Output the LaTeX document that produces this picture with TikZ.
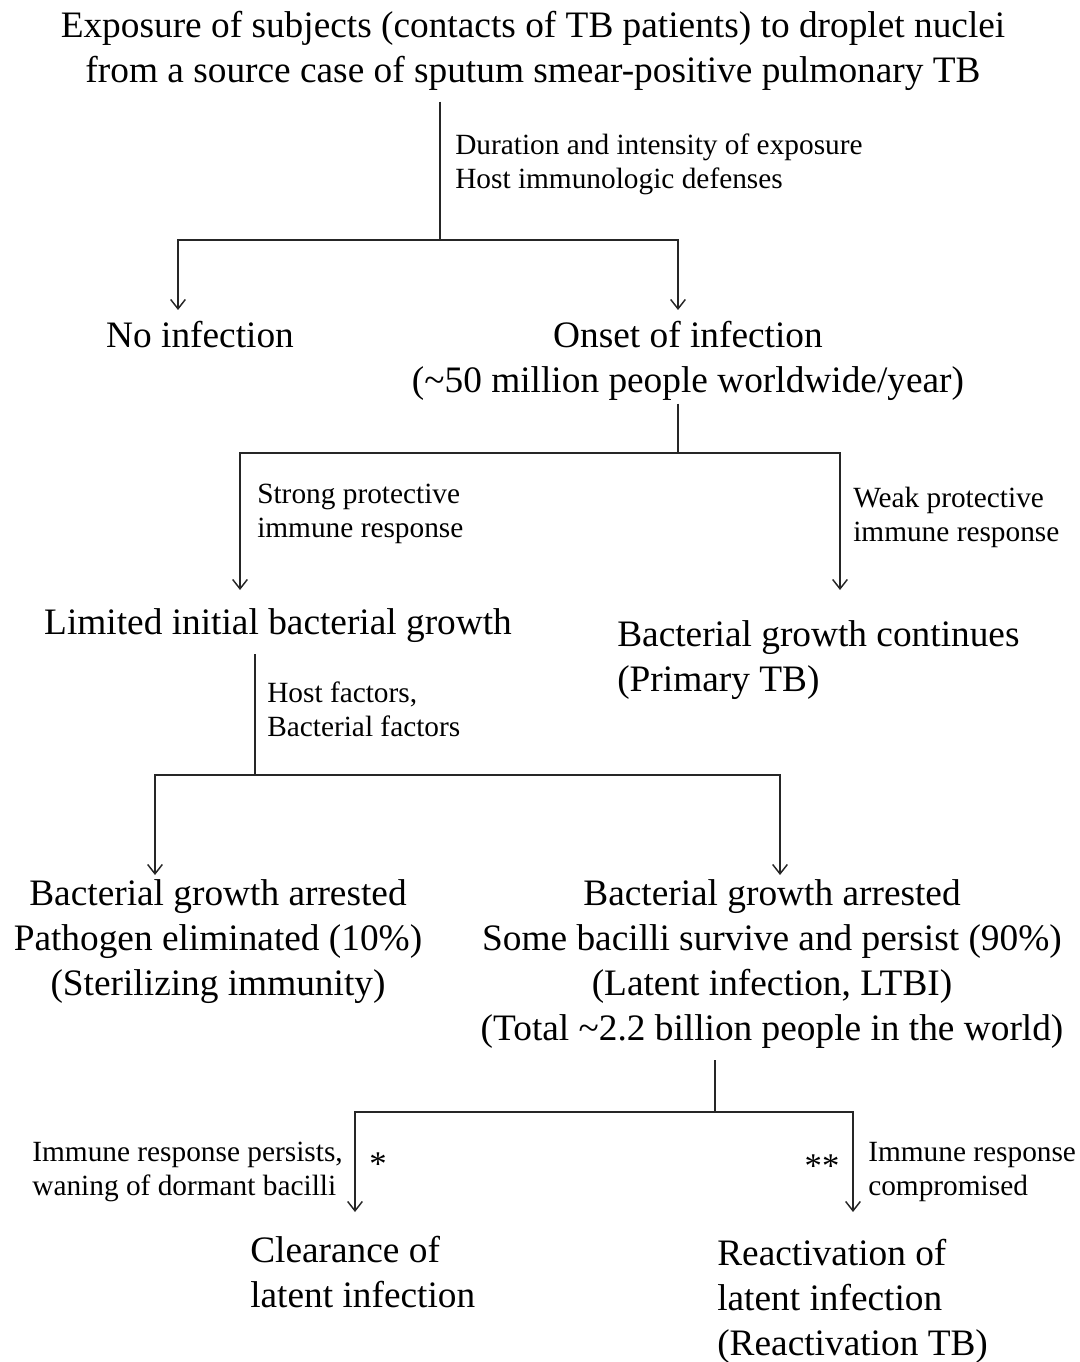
\documentclass[tikz,border=0pt]{standalone}
\usepackage{fontspec}
\setmainfont{Liberation Serif}
\usetikzlibrary{arrows.meta}
\tikzset{>={Straight Barb[length=7pt,width=11pt]}}
\tikzset{
  big/.style={inner sep=0pt, align=center, font=\fontsize{28}{33.75}\selectfont},
  small/.style={inner sep=0pt, align=left, font=\fontsize{22}{25.5}\selectfont},
  line/.style={line width=1.1pt, draw=black!85}
}

\begin{document}
\begin{tikzpicture}[x=0.75pt, y=-0.75pt]
    \useasboundingbox (0,0) rectangle (1080,1362);
    \node[big, anchor=north] (expo) at (533,11) {Exposure of subjects (contacts of TB patients) to droplet nuclei\\from a source case of sputum smear-positive pulmonary TB};
    \node[small, anchor=north west] (dur) at (455,134) {Duration and intensity of exposure\\Host immunologic defenses};
    \node[big, anchor=north] (noinf) at (200,321) {No infection};
    \node[big, anchor=north] (onset) at (688,321) {Onset of infection\\(\textasciitilde 50 million people worldwide/year)};
    \node[small, anchor=north west] (strong) at (257,484) {Strong protective\\immune response};
    \node[small, anchor=north west] (weak) at (853,487) {Weak protective\\immune response};
    \node[big, anchor=north] (limit) at (278,608) {Limited initial bacterial growth};
    \node[big, anchor=north west, align=left] (cont) at (617,620) {Bacterial growth continues\\(Primary TB)};
    \node[small, anchor=north west] (hostf) at (267,682) {Host factors,\\Bacterial factors};
    \node[big, anchor=north] (elim) at (218,879) {Bacterial growth arrested\\Pathogen eliminated (10\%)\\(Sterilizing immunity)};
    \node[big, anchor=north] (ltbi) at (772,879) {Bacterial growth arrested\\Some bacilli survive and persist (90\%)\\(Latent infection, LTBI)\\(Total \textasciitilde 2.2 billion people in the world)};
    \node[small, anchor=north east] (pers) at (343,1142) {Immune response persists,\\waning of dormant bacilli};
    \node[small, font=\fontsize{26}{26}\selectfont] (star) at (378,1164) {*};
    \node[small, font=\fontsize{26}{26}\selectfont] (dstar) at (822,1166) {**};
    \node[small, anchor=north west] (comp) at (868,1142) {Immune response\\compromised};
    \node[big, anchor=north west, align=left] (clear) at (250,1236) {Clearance of\\latent infection};
    \node[big, anchor=north west, align=left] (react) at (717,1239) {Reactivation of\\latent infection\\(Reactivation TB)};

    \coordinate (j1) at (440,240);
    \coordinate (j2) at (678,453);
    \coordinate (j3) at (255,775);
    \coordinate (j4) at (715,1112);
    \coordinate (t1) at (178,310);
    \coordinate (t2) at (678,310);
    \coordinate (t3) at (240,590);
    \coordinate (t4) at (840,590);
    \coordinate (t5) at (155,875);
    \coordinate (t6) at (780,875);
    \coordinate (t7) at (355,1212);
    \coordinate (t8) at (853,1212);

    \draw[line, shorten <=8pt] (expo.south -| j1) -- (j1);
    \draw[line, ->] (j1) -| (t1);
    \draw[line, ->] (j1) -| (t2);
    \draw[line, shorten <=2pt] (onset.south -| j2) -- (j2);
    \draw[line, ->] (j2) -| (t3);
    \draw[line, ->] (j2) -| (t4);
    \draw[line, shorten <=9pt] (limit.south -| j3) -- (j3);
    \draw[line, ->] (j3) -| (t5);
    \draw[line, ->] (j3) -| (t6);
    \draw[line, shorten <=9pt] (ltbi.south -| j4) -- (j4);
    \draw[line, ->] (j4) -| (t7);
    \draw[line, ->] (j4) -| (t8);
\end{tikzpicture}
\end{document}
